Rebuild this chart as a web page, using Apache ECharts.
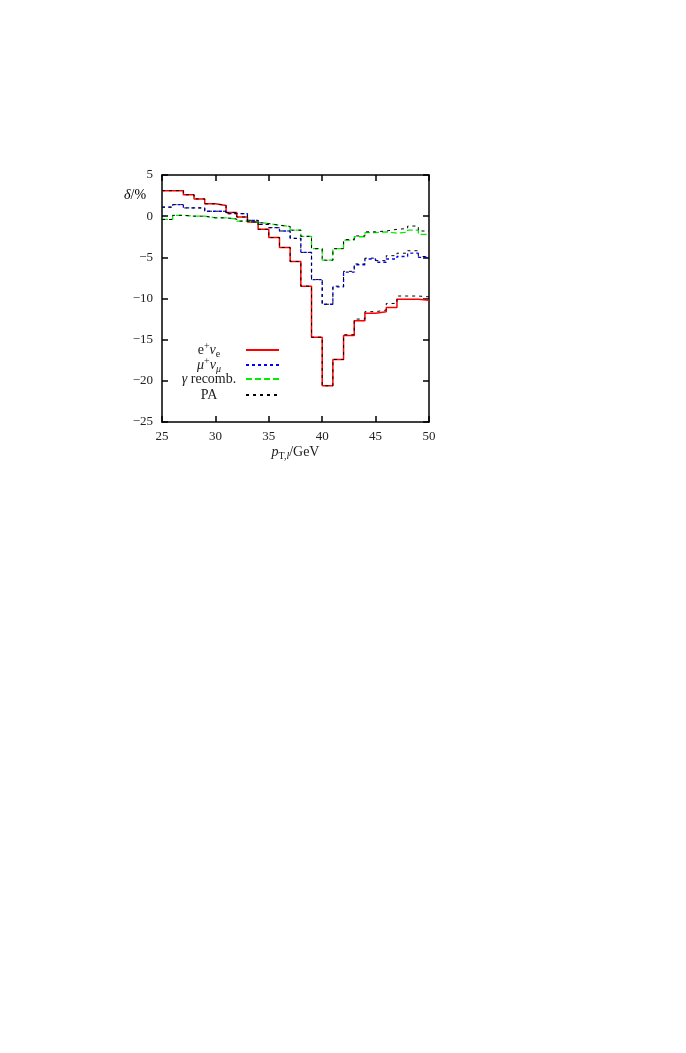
<!DOCTYPE html>
<html>
<head>
<meta charset="utf-8">
<script src="https://cdn.jsdelivr.net/npm/echarts@6/dist/echarts.min.js"></script>
<style>
  html, body { margin: 0; padding: 0; background: #fff; }
  #chart { width: 686px; height: 1053px; }
</style>
</head>
<body>
<div id="chart"></div>
<script>
// bin lower edges, 1 GeV bins from 25 to 50
var binLow = [25, 26, 27, 28, 29, 30, 31, 32, 33, 34, 35, 36, 37, 38, 39, 40, 41, 42, 43, 44, 45, 46, 47, 48, 49];
var binEnd = 50;

var eNu = [3.1, 3.1, 2.6, 2.1, 1.5, 1.3, 0.45, -0.1, -0.7, -1.6, -2.6, -3.8, -5.5, -8.5, -14.7, -20.6, -17.4, -14.5, -12.7, -11.8, -11.6, -11.1, -10.1, -10.1, -10.2];
var eNuPA = [3.1, 3.1, 2.6, 2.1, 1.5, 1.3, 0.45, -0.1, -0.7, -1.6, -2.6, -3.8, -5.5, -8.5, -14.7, -20.6, -17.4, -14.4, -12.5, -11.6, -11.4, -10.6, -9.7, -9.7, -9.8];
var muNu = [1.1, 1.4, 1.0, 1.0, 0.6, 0.6, 0.3, 0.3, -0.5, -1.0, -1.4, -1.8, -2.7, -4.4, -7.7, -10.7, -8.6, -6.8, -5.9, -5.2, -5.6, -5.2, -4.9, -4.5, -5.0];
var muNuPA = [1.1, 1.4, 1.0, 1.0, 0.6, 0.6, 0.3, 0.3, -0.5, -1.0, -1.4, -1.8, -2.7, -4.4, -7.7, -10.7, -8.5, -6.7, -5.8, -5.1, -5.4, -4.8, -4.5, -4.2, -4.9];
var gamma = [-0.4, 0.1, 0.0, 0.0, -0.2, -0.2, -0.35, -0.6, -0.75, -0.9, -1.1, -1.25, -1.7, -2.45, -3.95, -5.35, -3.95, -2.9, -2.5, -2.0, -1.9, -2.05, -1.95, -1.7, -2.2];
var gammaPA = [-0.4, 0.1, 0.0, 0.0, -0.2, -0.2, -0.35, -0.6, -0.75, -0.9, -1.1, -1.25, -1.7, -2.45, -3.95, -5.35, -3.95, -2.85, -2.4, -1.9, -1.8, -1.6, -1.5, -1.2, -1.8];

var font = 'Liberation Serif';
var textColor = '#222';

// histogram steps: one point per bin edge, last bin repeated at the upper edge
function steps(vals) {
    var pts = [];
    for (var i = 0; i < binLow.length; i++) {
        pts.push([binLow[i], vals[i]]);
    }
    pts.push([binEnd, vals[vals.length - 1]]);
    return pts;
}

function histSeries(name, vals, color, width, dash, z) {
    return {
        name: name,
        type: 'line',
        step: 'end',
        symbol: 'none',
        z: z,
        silent: true,
        lineStyle: { color: color, width: width, type: dash },
        itemStyle: { color: color },
        data: steps(vals)
    };
}

function richSet(size, align) {
    return {
        n: { fontFamily: font, fontSize: size, color: textColor, lineHeight: 18, align: align },
        it: { fontFamily: font, fontSize: size, fontStyle: 'italic', color: textColor, lineHeight: 18, align: align },
        sup: { fontFamily: font, fontSize: size - 4, color: textColor, verticalAlign: 'top', lineHeight: 18, align: align },
        sub: { fontFamily: font, fontSize: size - 4, color: textColor, verticalAlign: 'bottom', lineHeight: 16, align: align },
        subit: { fontFamily: font, fontSize: size - 4, fontStyle: 'italic', color: textColor, verticalAlign: 'bottom', lineHeight: 16, align: align }
    };
}

var legendLabels = {
    'eNu': '{n|e}{sup|+}{it|ν}{sub|e}',
    'muNu': '{it|μ}{sup|+}{it|ν}{subit|μ}',
    'gamma': '{it|γ}{n| recomb.}',
    'PA': '{n|PA}'
};
var legendTops = [341, 356, 372, 388];
var legendNames = ['eNu', 'muNu', 'gamma', 'PA'];

var legends = legendNames.map(function (name, i) {
    return {
        data: [name],
        right: 406,
        top: legendTops[i],
        align: 'right',
        orient: 'vertical',
        padding: 0,
        itemWidth: 33,
        itemHeight: 14,
        selectedMode: false,
        itemStyle: { opacity: 0 },
        formatter: function (n) { return legendLabels[n]; },
        textStyle: { width: 64, rich: richSet(14, 'center') }
    };
});

var minus = function (v) { return String(v).replace('-', '\u2212'); };

function boxAxis(extra) {
    var base = {
        type: 'value',
        axisLine: { show: true, onZero: false, lineStyle: { color: '#000', width: 1.5 } },
        axisTick: { show: true, inside: true, length: 6, lineStyle: { color: '#000', width: 1.5 } },
        splitLine: { show: false }
    };
    for (var k in extra) base[k] = extra[k];
    return base;
}

var chart = echarts.init(document.getElementById('chart'), null, { renderer: 'canvas' });
chart.setOption({
    backgroundColor: '#fff',
    animation: false,
    legend: legends,
    grid: { left: 162, right: 257, top: 175, bottom: 631, containLabel: false },
    xAxis: [
        boxAxis({
            min: 25, max: 50, interval: 5, position: 'bottom',
            axisLabel: { fontFamily: font, fontSize: 13, color: textColor, margin: 8 },
            name: '{it|p}{sub|T,}{subit|l}{n|/GeV}',
            nameLocation: 'middle',
            nameGap: 21,
            nameTextStyle: { rich: richSet(14, 'left') }
        }),
        boxAxis({
            min: 25, max: 50, interval: 5, position: 'top',
            axisLabel: { show: false }
        })
    ],
    yAxis: [
        boxAxis({
            min: -25, max: 5, interval: 5, position: 'left',
            axisLabel: { fontFamily: font, fontSize: 13, color: textColor, margin: 9, formatter: minus }
        }),
        boxAxis({
            min: -25, max: 5, interval: 5, position: 'right',
            axisLabel: { show: false }
        })
    ],
    graphic: [{
        type: 'text',
        left: 124,
        top: 188,
        style: {
            text: '{it|δ}{n|/%}',
            rich: richSet(14, 'left')
        }
    }],
    series: [
        histSeries('eNu', eNu, '#ff0000', 1.5, 'solid', 2),
        histSeries('muNu', muNu, '#0000ff', 1.3, [3, 3], 3),
        histSeries('gamma', gamma, '#00ee00', 1.3, [6, 3], 4),
        histSeries('PA', eNuPA, '#000', 1, [3, 4], 5),
        histSeries('PA', muNuPA, '#000', 1, [3, 4], 5),
        histSeries('PA', gammaPA, '#000', 1, [3, 4], 5)
    ]
});

window.addEventListener('resize', function () {
    chart.resize();
});
</script>
</body>
</html>
